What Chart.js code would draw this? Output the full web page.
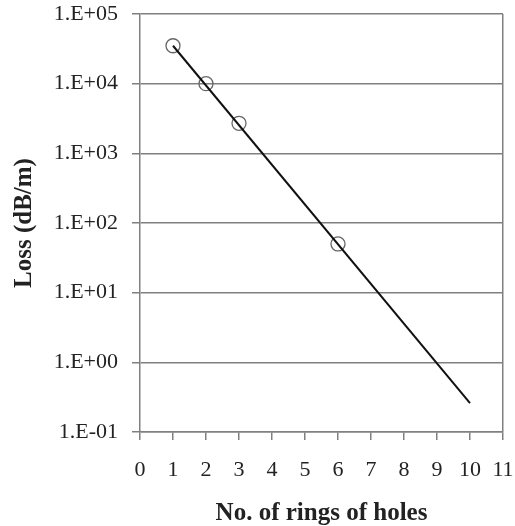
<!DOCTYPE html>
<html>
<head>
<meta charset="utf-8">
<script src="https://cdn.jsdelivr.net/npm/chart.js@4"></script>
<style>
  body { margin: 0; background: #fff; }
</style>
</head>
<body>
<canvas id="myChart" width="515" height="526"></canvas>
<script>
// measured points (open circles)
const rings = [1, 2, 3, 6];
const loss = [35000, 10000, 2700, 50];

// fitted line, end points
const fitRings = [1, 10];
const fitLoss = [35000, 0.26];

const yTickValues = [0.1, 1, 10, 100, 1000, 10000, 100000];
const yTickLabels = ['1.E-01', '1.E+00', '1.E+01', '1.E+02', '1.E+03', '1.E+04', '1.E+05'];
const xTickValues = [0, 1, 2, 3, 4, 5, 6, 7, 8, 9, 10, 11];

const gridGray = '#808080';
const textCol = '#222';

const config = {
  type: 'scatter',
  data: {
    datasets: [{
      label: 'fit',
      data: fitRings.map((x, i) => ({ x: x, y: fitLoss[i] })),
      showLine: true,
      borderColor: '#111',
      borderWidth: 2,
      pointRadius: 0
    }, {
      label: 'measured',
      data: rings.map((x, i) => ({ x: x, y: loss[i] })),
      showLine: false,
      pointStyle: 'circle',
      pointRadius: 7,
      borderColor: '#666',
      borderWidth: 1.3,
      backgroundColor: 'rgba(0,0,0,0)'
    }]
  },
  options: {
    responsive: false,
    animation: false,
    layout: { padding: { top: 14, right: 12, left: 0, bottom: 0 } },
    plugins: { legend: { display: false }, tooltip: { enabled: false } },
    scales: {
      x: {
        type: 'linear',
        min: 0,
        max: 11,
        afterBuildTicks: axis => { axis.ticks = xTickValues.map(v => ({ value: v })); },
        afterFit: axis => {
          axis.height = 94;
          axis.paddingLeft = 0;
          axis.paddingRight = 0;
        },
        border: { display: true, color: gridGray, width: 1.5 },
        grid: {
          drawTicks: true,
          tickLength: 8,
          tickColor: gridGray,
          lineWidth: 1.5,
          color: ctx => (ctx.tick && ctx.tick.value === 11) ? gridGray : 'rgba(0,0,0,0)'
        },
        ticks: {
          padding: 17,
          color: textCol,
          maxRotation: 0,
          autoSkip: false,
          font: { family: 'Liberation Serif', size: 22 }
        },
        title: {
          display: true,
          text: 'No. of rings of holes',
          color: textCol,
          padding: { top: 0, bottom: 0 },
          font: { family: 'Liberation Serif', size: 25, weight: 'bold', lineHeight: 1 }
        }
      },
      y: {
        type: 'logarithmic',
        min: 0.1,
        max: 100000,
        afterBuildTicks: axis => { axis.ticks = yTickValues.map(v => ({ value: v })); },
        afterFit: axis => {
          axis.width = 140;
          axis.paddingTop = 0;
          axis.paddingBottom = 0;
        },
        border: { display: true, color: gridGray, width: 1.5 },
        grid: {
          drawTicks: true,
          tickLength: 8,
          color: gridGray,
          tickColor: gridGray,
          lineWidth: 1.5
        },
        ticks: {
          padding: 14,
          color: textCol,
          autoSkip: false,
          font: { family: 'Liberation Serif', size: 22 },
          callback: (v) => yTickLabels[yTickValues.indexOf(v)]
        },
        title: {
          display: true,
          text: 'Loss (dB/m)',
          color: textCol,
          padding: { top: 10, bottom: 0 },
          font: { family: 'Liberation Serif', size: 25, weight: 'bold', lineHeight: 1.2 }
        }
      }
    }
  }
};

const myChart = new Chart(document.getElementById('myChart'), config);
</script>
</body>
</html>
